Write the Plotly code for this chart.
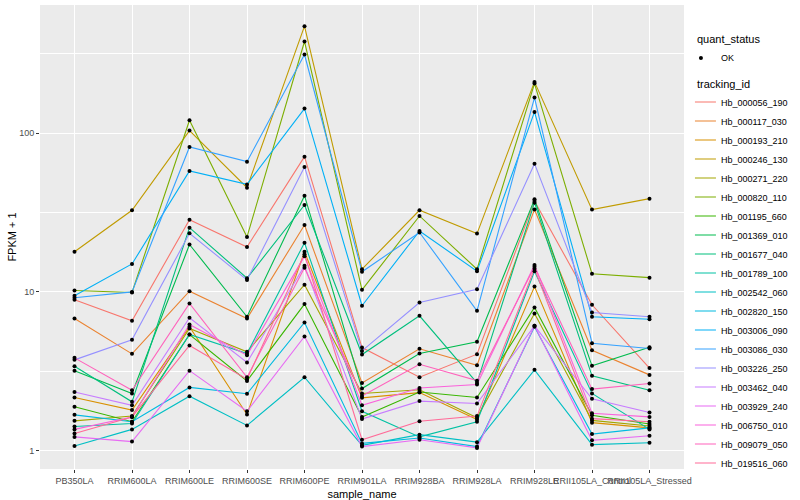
import plotly.graph_objects as go

samples = ["PB350LA", "RRIM600LA", "RRIM600LE", "RRIM600SE", "RRIM600PE", "RRIM901LA",
           "RRIM928BA", "RRIM928LA", "RRIM928LE", "RRII105LA_Control", "RRII105LA_Stressed"]

tracking_ids = ["Hb_000056_190", "Hb_000117_030", "Hb_000193_210", "Hb_000246_130", "Hb_000271_220",
                "Hb_000820_110", "Hb_001195_660", "Hb_001369_010", "Hb_001677_040", "Hb_001789_100",
                "Hb_002542_060", "Hb_002820_150", "Hb_003006_090", "Hb_003086_030", "Hb_003226_250",
                "Hb_003462_040", "Hb_003929_240", "Hb_006750_010", "Hb_009079_050", "Hb_019516_060"]

colors = ["#F8766D", "#EA8331", "#D89000", "#C09B00", "#A3A500", "#7CAE00", "#39B600", "#00BB4E",
          "#00BF7D", "#00C1A3", "#00BFC4", "#00BAE0", "#00B0F6", "#35A2FF", "#9590FF", "#C77CFF",
          "#E76BF3", "#FA62DB", "#FF62BC", "#FF6A98"]

# FPKM + 1 per sample (order of `samples`)
hb_000056_190 = [8.92, 6.58, 28.5, 19.2, 71.2, 4.46, 2.90, 4.05, 37.4, 8.30, 3.31]
hb_000117_030 = [6.80, 4.07, 10.1, 6.80, 26.4, 2.67, 4.38, 3.45, 33.1, 4.29, 3.00]
hb_000193_210 = [2.16, 1.80, 6.03, 1.69, 17.9, 2.15, 2.32, 1.57, 10.8, 1.50, 1.39]
hb_000246_130 = [17.9, 32.7, 103.9, 45.4, 473.0, 13.9, 32.7, 23.3, 210.6, 33.0, 38.7]
hb_000271_220 = [1.54, 1.65, 5.88, 4.19, 11.1, 2.29, 2.42, 1.61, 7.31, 1.55, 1.43]
hb_000820_110 = [10.2, 9.92, 120.7, 22.2, 378.6, 10.3, 30.1, 13.9, 205.6, 13.0, 12.3]
hb_001195_660 = [1.89, 1.52, 5.39, 2.75, 8.38, 1.63, 2.34, 2.16, 7.98, 1.67, 1.47]
hb_001369_010 = [3.18, 2.29, 19.9, 6.97, 40.4, 2.46, 4.09, 4.85, 38.3, 3.42, 4.48]
hb_001677_040 = [3.40, 2.03, 25.4, 12.2, 35.3, 4.03, 7.07, 2.67, 36.5, 2.96, 2.40]
hb_001789_100 = [1.42, 1.48, 5.39, 4.09, 20.4, 1.77, 1.22, 1.52, 13.5, 2.29, 1.36]
hb_002542_060 = [1.07, 1.36, 2.20, 1.44, 2.90, 1.08, 1.26, 1.13, 3.23, 1.09, 1.12]
hb_002820_150 = [1.68, 1.52, 2.50, 2.28, 6.42, 1.11, 1.20, 1.06, 6.03, 1.27, 1.39]
hb_003006_090 = [9.45, 15.0, 57.8, 47.6, 143.0, 8.18, 24.2, 13.5, 136.2, 6.97, 6.73]
hb_003086_030 = [9.18, 10.0, 81.9, 66.2, 313.4, 13.4, 23.7, 7.60, 167.8, 4.75, 4.40]
hb_003226_250 = [3.73, 4.99, 23.4, 11.9, 61.3, 4.25, 8.58, 10.4, 64.3, 7.42, 6.97]
hb_003462_040 = [2.34, 1.93, 6.87, 3.59, 14.6, 1.58, 2.05, 1.98, 6.11, 2.12, 1.74]
hb_003929_240 = [1.22, 1.14, 3.19, 1.77, 5.24, 1.06, 1.17, 1.04, 6.11, 1.16, 1.24]
hb_006750_010 = [1.36, 1.63, 6.23, 3.99, 16.8, 1.93, 2.48, 2.61, 14.8, 1.72, 1.63]
hb_009079_050 = [3.84, 2.40, 8.46, 2.90, 14.2, 2.21, 3.50, 2.76, 14.4, 2.44, 2.65]
hb_019516_060 = [1.28, 1.63, 4.60, 2.82, 17.3, 1.17, 1.53, 1.65, 14.0, 1.59, 1.52]

series = [hb_000056_190, hb_000117_030, hb_000193_210, hb_000246_130, hb_000271_220,
          hb_000820_110, hb_001195_660, hb_001369_010, hb_001677_040, hb_001789_100,
          hb_002542_060, hb_002820_150, hb_003006_090, hb_003086_030, hb_003226_250,
          hb_003462_040, hb_003929_240, hb_006750_010, hb_009079_050, hb_019516_060]

y_ticks = [1, 10, 100]
y_minor = [3.1623, 31.623, 316.23]

FONT = "Liberation Sans, Arial, Helvetica, sans-serif"

fig = go.Figure()

all_x = [s for vals in series for s in samples]
all_y = [v for vals in series for v in vals]

for name, col, vals in zip(tracking_ids, colors, series):
    fig.add_trace(go.Scatter(x=samples, y=vals, mode="lines", name=name,
                             line=dict(color=col, width=1.1), legend="legend",
                             hoverinfo="skip"))

fig.add_trace(go.Scatter(x=all_x, y=all_y, mode="markers", name="OK",
                         marker=dict(color="black", size=4, symbol="circle"),
                         legend="legend2"))

fig.update_layout(
    template="none",
    width=800, height=500,
    margin=dict(l=40, r=116, t=5, b=31, autoexpand=False),
    paper_bgcolor="white", plot_bgcolor="#EBEBEB",
    font=dict(family=FONT, size=9, color="black"),
    xaxis=dict(type="category", categoryorder="array", categoryarray=samples,
               range=[-0.6, 10.6], showgrid=True, gridcolor="white", gridwidth=1.4,
               zeroline=False, showline=False, ticks="outside", ticklen=3,
               tickcolor="#333333", tickwidth=1, tickangle=0, automargin=False,
               tickfont=dict(family=FONT, size=9, color="#4D4D4D"),
               title=dict(text="sample_name", font=dict(family=FONT, size=11))),
    yaxis=dict(type="log", range=[-0.116, 2.808], tickvals=y_ticks,
               ticktext=[str(t) for t in y_ticks],
               showgrid=True, gridcolor="white", gridwidth=1.4,
               minor=dict(tickvals=y_minor, showgrid=True, gridcolor="white",
                          gridwidth=0.7, ticks=""),
               zeroline=False, showline=False, ticks="outside", ticklen=3,
               tickcolor="#333333", tickwidth=1, automargin=False,
               tickfont=dict(family=FONT, size=9, color="#4D4D4D"),
               title=dict(text="FPKM + 1", font=dict(family=FONT, size=11), standoff=0)),
    legend=dict(title=dict(text="tracking_id", font=dict(family=FONT, size=11)),
                x=1.017, xanchor="left", y=0.853, yanchor="top",
                font=dict(family=FONT, size=9), bgcolor="rgba(0,0,0,0)",
                itemwidth=30, tracegroupgap=0, indentation=-14),
    legend2=dict(title=dict(text="quant_status", font=dict(family=FONT, size=11)),
                 x=1.017, xanchor="left", y=0.948, yanchor="top",
                 font=dict(family=FONT, size=9), bgcolor="rgba(0,0,0,0)",
                 itemwidth=30, indentation=-14),
    showlegend=True,
)

fig.write_html("out.html", config={"displayModeBar": False},
               post_script="document.body.style.margin='0';")
